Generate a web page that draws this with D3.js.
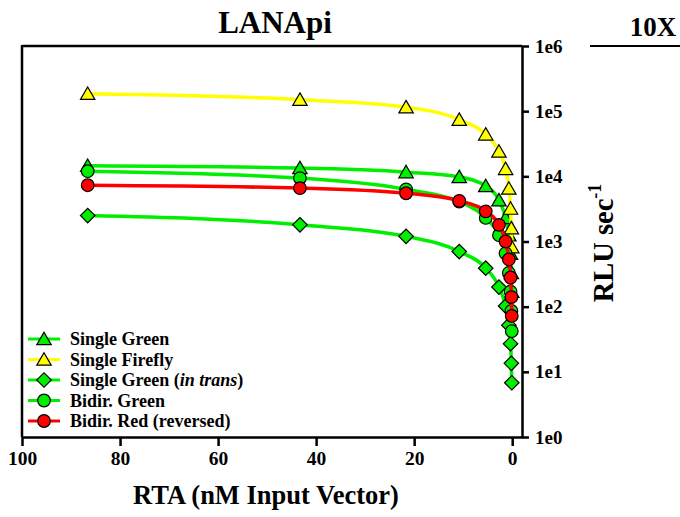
<!DOCTYPE html>
<html>
<head>
<meta charset="utf-8">
<script src="https://cdn.jsdelivr.net/npm/d3@7"></script>
<style>
  body { margin: 0; background: #fff; }
  text { font-family: "Liberation Serif", "Times New Roman", serif; font-weight: bold; }
</style>
</head>
<body>
<svg id="grafico" width="680" height="517"></svg>
<script>
// concentraciones (nM), diluciones 1:2
var concentraciones = [86.6, 43.3, 21.65, 10.8, 5.4, 2.7, 1.35, 0.68, 0.34, 0.17, 0.085];

var singleGreen   = [1.45e4, 1.34e4, 1.16e4, 9.8e3, 7.1e3, 4.3e3, 2.3e3, 1.25e3, 6.5e2, 3.3e2, 1.7e2];
var singleFirefly = [1.85e5, 1.5e5, 1.15e5, 7.4e4, 4.4e4, 2.4e4, 1.3e4, 6.5e3, 3.2e3, 1.6e3, 8.2e2];
var singleTrans   = [2.5e3, 1.8e3, 1.2e3, 7.0e2, 3.9e2, 2.0e2, 1.02e2, 52, 27, 13.5, 6.8];
var bidirGreen    = [1.2e4, 9.4e3, 6.3e3, 4.1e3, 2.3e3, 1.25e3, 6.6e2, 3.3e2, 1.7e2, 86, 42];
var bidirRed      = [7.3e3, 6.6e3, 5.5e3, 4.2e3, 2.9e3, 1.8e3, 1.0e3, 5.3e2, 2.8e2, 1.4e2, 72];

var xTicks = [100, 80, 60, 40, 20, 0];
var yTicks = [1, 10, 100, 1e3, 1e4, 1e5, 1e6];
var yTickLabels = ["1e0", "1e1", "1e2", "1e3", "1e4", "1e5", "1e6"];

var series = [
    { nombre: "Single Green", valores: singleGreen, color: "#00ee00", forma: "triangulo" },
    { nombre: "Single Firefly", valores: singleFirefly, color: "#ffff00", forma: "triangulo" },
    { nombre: "Single Green (in trans)", valores: singleTrans, color: "#00ee00", forma: "diamante" },
    { nombre: "Bidir. Green", valores: bidirGreen, color: "#00ee00", forma: "circulo" },
    { nombre: "Bidir. Red (reversed)", valores: bidirRed, color: "#ff0000", forma: "circulo" }
];

var svg = d3.select("#grafico");

var x = d3.scaleLinear().domain([100, -2]).range([22, 522]);
var y = d3.scaleLog().domain([1, 1e6]).range([437, 46]);

// marco
svg.append("line").attr("x1", 22).attr("x2", 522).attr("y1", 46).attr("y2", 46)
    .attr("stroke", "#000").attr("stroke-width", 2.5);
svg.append("line").attr("x1", 22).attr("x2", 22).attr("y1", 45).attr("y2", 437)
    .attr("stroke", "#000").attr("stroke-width", 2.5);
svg.append("line").attr("x1", 590).attr("x2", 680).attr("y1", 46).attr("y2", 46)
    .attr("stroke", "#000").attr("stroke-width", 2);

// eje x
var ejeX = svg.append("g")
    .attr("transform", "translate(0,437)")
    .call(d3.axisBottom(x).tickValues(xTicks).tickSize(9).tickPadding(5).tickSizeOuter(0));
ejeX.select(".domain").attr("stroke-width", 2.5);
ejeX.selectAll(".tick line").attr("stroke-width", 2.5);
ejeX.selectAll(".tick text")
    .style("font-family", "Liberation Serif, serif").style("font-weight", "bold").style("font-size", "19.5px");

// eje y (derecha)
var ejeY = svg.append("g")
    .attr("transform", "translate(522,0)")
    .call(d3.axisRight(y).tickValues(yTicks).tickFormat(function (d, i) { return yTickLabels[i]; })
        .tickSize(7).tickPadding(6).tickSizeOuter(0));
ejeY.select(".domain").attr("stroke-width", 2.5);
ejeY.selectAll(".tick line").attr("stroke-width", 2.5);
ejeY.selectAll(".tick text")
    .style("font-family", "Liberation Serif, serif").style("font-weight", "bold").style("font-size", "19px");

// titulos
svg.append("text").attr("x", 275).attr("y", 33).attr("text-anchor", "middle")
    .style("font-size", "31px").text("LANApi");
svg.append("text").attr("x", 653).attr("y", 36).attr("text-anchor", "middle")
    .style("font-size", "27px").text("10X");
svg.append("text").attr("x", 266).attr("y", 504).attr("text-anchor", "middle")
    .style("font-size", "26.5px").text("RTA (nM Input Vector)");
var tituloY = svg.append("text")
    .attr("transform", "translate(613,243) rotate(-90)")
    .attr("text-anchor", "middle")
    .style("font-size", "28.5px");
tituloY.append("tspan").text("RLU sec");
tituloY.append("tspan").attr("dy", -12).style("font-size", "18px").text("-1");

function simbolo(forma) {
    if (forma == "triangulo") return d3.symbol().type(d3.symbolTriangle).size(90)();
    if (forma == "diamante") return d3.symbol().type(d3.symbolSquare).size(105)();
    return d3.symbol().type(d3.symbolCircle).size(125)();
}

function colocar(forma, px, py) {
    if (forma == "triangulo") return "translate(" + px + "," + (py + 1.5) + ")";
    if (forma == "diamante") return "translate(" + px + "," + py + ") rotate(45)";
    return "translate(" + px + "," + py + ")";
}

var linea = d3.line()
    .x(function (d) { return x(d.c); })
    .y(function (d) { return y(d.v); })
    .curve(d3.curveMonotoneX);

for (let s of series) {
    let puntos = concentraciones.map(function (c, i) { return { c: c, v: s.valores[i] }; });
    svg.append("path")
        .datum(puntos)
        .attr("fill", "none")
        .attr("stroke", s.color)
        .attr("stroke-width", 3.5)
        .attr("d", linea);
    svg.append("g").selectAll("path")
        .data(puntos)
        .join("path")
        .attr("transform", function (d) { return colocar(s.forma, x(d.c), y(d.v)); })
        .attr("d", simbolo(s.forma))
        .attr("fill", s.color)
        .attr("stroke", "#000")
        .attr("stroke-width", 1.2);
}

// leyenda
var leyenda = svg.append("g");
series.forEach(function (s, i) {
    let yy = 339 + i * 20.5;
    leyenda.append("line").attr("x1", 28).attr("x2", 60).attr("y1", yy).attr("y2", yy)
        .attr("stroke", s.color).attr("stroke-width", 3);
    leyenda.append("path")
        .attr("transform", colocar(s.forma, 44, yy))
        .attr("d", simbolo(s.forma))
        .attr("fill", s.color).attr("stroke", "#000").attr("stroke-width", 1.2);
    let t = leyenda.append("text").attr("x", 70).attr("y", yy + 6).style("font-size", "18px");
    if (s.forma == "diamante") {
        t.append("tspan").text("Single Green (");
        t.append("tspan").style("font-style", "italic").text("in trans");
        t.append("tspan").text(")");
    } else {
        t.text(s.nombre);
    }
});
</script>
</body>
</html>
